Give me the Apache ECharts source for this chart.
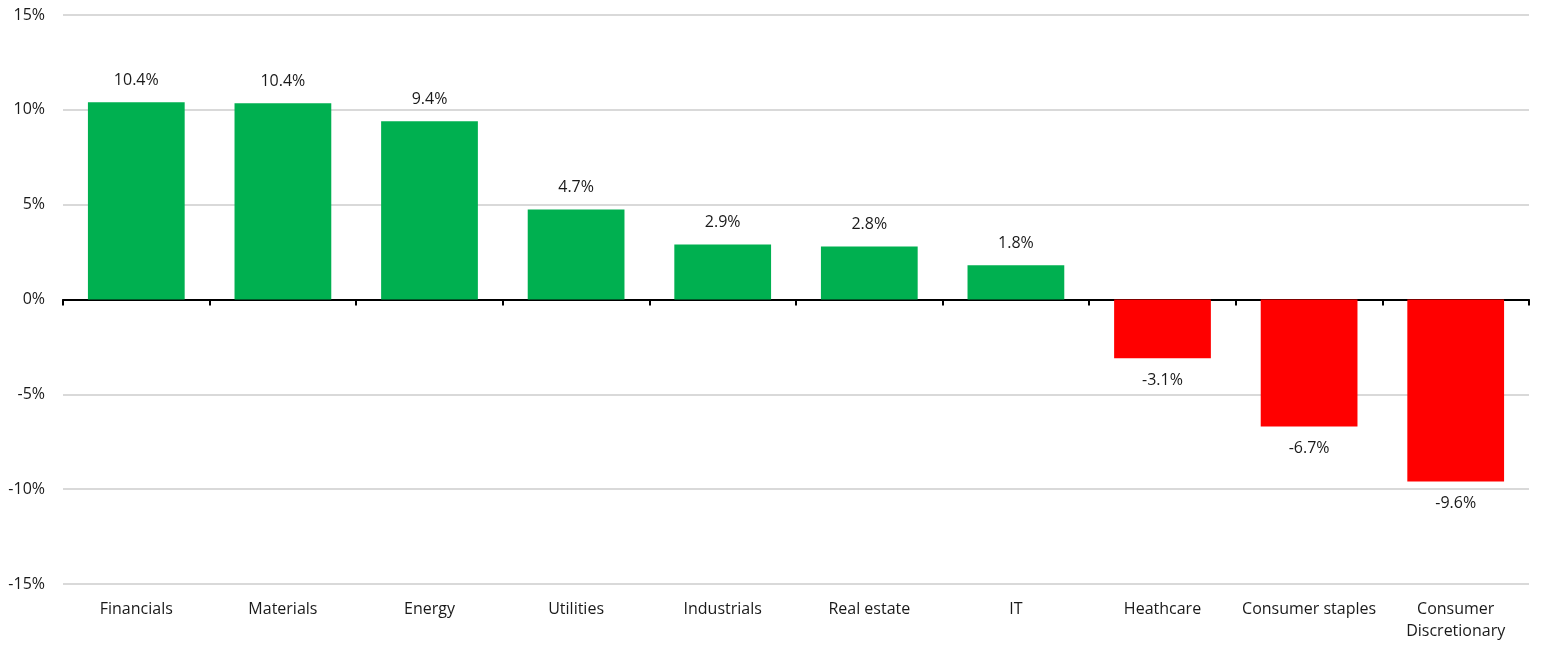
<!DOCTYPE html>
<html>
<head>
<meta charset="utf-8">
<script src="https://cdn.jsdelivr.net/npm/echarts@6/dist/echarts.min.js"></script>
<style>
    html, body { margin: 0; padding: 0; background: #fff; }
    #main { width: 1543px; height: 645px; }
</style>
</head>
<body>
<div id="main"></div>
<script>
    // sectors and their returns (%)
    var sectors = ['Financials', 'Materials', 'Energy', 'Utilities', 'Industrials', 'Real estate', 'IT', 'Heathcare', 'Consumer staples', 'Consumer\nDiscretionary'];
    var returns = [10.4, 10.35, 9.4, 4.75, 2.9, 2.8, 1.8, -3.1, -6.7, -9.6];
    var labels = ['10.4%', '10.4%', '9.4%', '4.7%', '2.9%', '2.8%', '1.8%', '-3.1%', '-6.7%', '-9.6%'];

    var font = '"Open Sans", "Noto Sans", sans-serif';

    var myChart = echarts.init(document.getElementById('main'));

    // positive green, negative red, label above / below the bar
    var barData = returns.map(function (v, i) {
        return {
            value: v,
            itemStyle: { color: v >= 0 ? '#00b050' : '#ff0000' },
            label: { position: v >= 0 ? 'top' : 'bottom', formatter: labels[i] }
        };
    });

    var option = {
        animation: false,
        grid: { left: 63, right: 14, top: 15, bottom: 61 },
        xAxis: [
            {
                // the axis line sitting on zero, with ticks
                type: 'category',
                data: sectors,
                position: 'bottom',
                axisLine: { onZero: true, lineStyle: { color: '#000', width: 2 } },
                axisTick: { show: true, length: 6, lineStyle: { color: '#000', width: 2 } },
                axisLabel: { show: false },
                splitLine: { show: false }
            },
            {
                // labels at the bottom of the plot
                type: 'category',
                data: sectors,
                position: 'bottom',
                axisLine: { show: false, onZero: false },
                axisTick: { show: false },
                axisLabel: {
                    show: true,
                    interval: 0,
                    margin: 14,
                    color: '#1a1a1a',
                    fontSize: 16,
                    lineHeight: 22,
                    fontFamily: font
                },
                splitLine: { show: false }
            }
        ],
        yAxis: {
            type: 'value',
            min: -15,
            max: 15,
            interval: 5,
            axisLine: { show: false },
            axisTick: { show: false },
            axisLabel: {
                formatter: '{value}%',
                margin: 18,
                color: '#1a1a1a',
                fontSize: 16,
                fontFamily: font
            },
            splitLine: { lineStyle: { color: '#d9d9d9', width: 2 } }
        },
        series: [
            {
                type: 'bar',
                xAxisIndex: 0,
                barWidth: '66%',
                data: barData,
                label: {
                    show: true,
                    distance: 14,
                    color: '#1a1a1a',
                    fontSize: 16,
                    fontFamily: font
                },
                z: 1
            }
        ]
    };

    myChart.setOption(option);
</script>
</body>
</html>
